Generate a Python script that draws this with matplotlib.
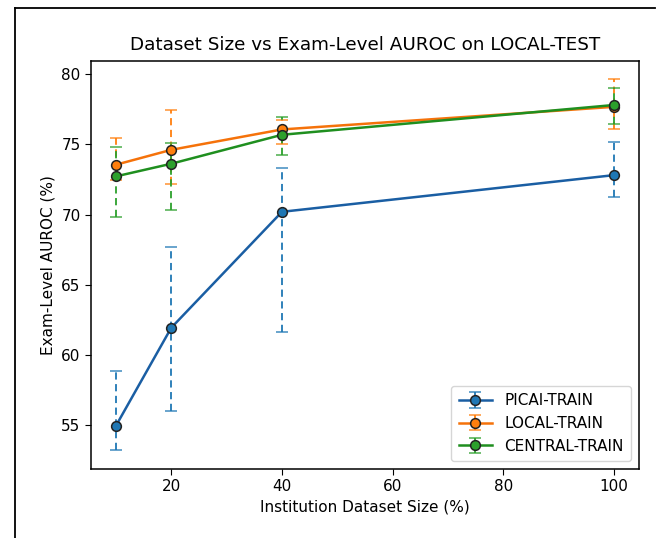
"""Dataset size vs exam-level AUROC on LOCAL-TEST (error bars per training set)."""

import matplotlib

matplotlib.use("Agg")
import matplotlib.pyplot as plt
from matplotlib.lines import Line2D


dataset_size = [10, 20, 40, 100]

picai_auroc = [54.97, 61.95, 70.2, 72.81]
picai_low = [53.24, 56.0, 61.62, 71.27]
picai_high = [58.89, 67.69, 73.33, 75.14]

local_auroc = [73.55, 74.61, 76.06, 77.67]
local_low = [72.46, 72.17, 75.0, 76.09]
local_high = [75.47, 77.44, 76.7, 79.64]

central_auroc = [72.72, 73.62, 75.68, 77.8]
central_low = [69.8, 70.32, 74.24, 76.42]
central_high = [74.78, 75.07, 76.96, 79.03]

series = [
    ("PICAI-TRAIN", picai_auroc, picai_low, picai_high, "#1f77b4", "#1a5ea3"),
    ("LOCAL-TRAIN", local_auroc, local_low, local_high, "#ff7f0e", "#f5720a"),
    ("CENTRAL-TRAIN", central_auroc, central_low, central_high, "#2ca02c", "#1f8f1f"),
]


def main() -> None:
    W, H = 665, 538
    fig = plt.figure(figsize=(W / 100, H / 100), dpi=100)
    ax = fig.add_axes([91 / W, 1 - 469 / H, (639 - 91) / W, (469 - 61) / H])

    for name, vals, low, high, ecol, lcol in series:
        yerr = [[v - lo for v, lo in zip(vals, low)], [hi - v for v, hi in zip(vals, high)]]
        line, caps, bars = ax.errorbar(
            dataset_size, vals, yerr=yerr, fmt="o-", color=lcol, ecolor=ecol,
            elinewidth=1.3, capsize=4, capthick=1.3, lw=1.8, ms=7,
            markerfacecolor=ecol, markeredgecolor="#222222", markeredgewidth=1.1,
            label=name,
        )
        for b in bars:
            b.set_linestyle((0, (4, 2.5)))
        for c in caps:
            c.set_alpha(0.85)

    ax.set_title("Dataset Size vs Exam-Level AUROC on LOCAL-TEST", fontsize=13.2, pad=8)
    ax.set_xlabel("Institution Dataset Size (%)", fontsize=11)
    ax.set_ylabel("Exam-Level AUROC (%)", fontsize=11)
    ax.tick_params(labelsize=11, length=4)
    ax.set_xticks([20, 40, 60, 80, 100])
    ax.set_yticks([55, 60, 65, 70, 75, 80])
    ax.set_xlim(5.5, 104.5)
    ax.set_ylim(51.9, 80.93)
    for s in ax.spines.values():
        s.set_linewidth(1.1)

    ax.legend(loc="lower right", fontsize=11, handlelength=2.2, borderpad=0.5,
              labelspacing=0.5, framealpha=0.8)

    # outer frame of the screenshot
    fig.add_artist(Line2D([15 / W, 15 / W], [0, 1 - 8 / H], color="black", lw=1.3, transform=fig.transFigure))
    fig.add_artist(Line2D([15 / W, 655 / W], [1 - 8 / H, 1 - 8 / H], color="black", lw=1.3, transform=fig.transFigure))

    fig.savefig("out.png", dpi=100)


if __name__ == "__main__":
    main()
